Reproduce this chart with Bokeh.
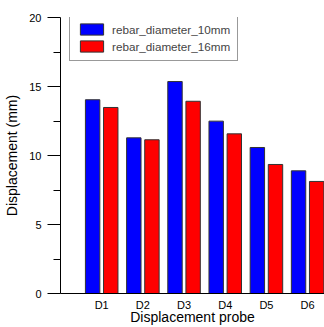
from bokeh.plotting import figure
from bokeh.models import ColumnDataSource, Range1d, FixedTicker, Legend, LegendItem
from bokeh.embed import file_html
from bokeh.resources import INLINE

probes = ["D1", "D2", "D3", "D4", "D5", "D6"]
series_names = ["rebar_diameter_10mm", "rebar_diameter_16mm"]
d10 = [14.04, 11.28, 15.36, 12.49, 10.58, 8.89]
d16 = [13.48, 11.14, 13.93, 11.57, 9.35, 8.12]
colors = ["#0000ff", "#ff0000"]

FONT = "Liberation Sans"
pos = list(range(1, len(probes) + 1))
off = 0.22
bw = 0.35

p = figure(width=324, height=327, output_backend="svg", toolbar_location=None,
           x_range=Range1d(0, 6.41), y_range=Range1d(0, 20),
           min_border_left=60, min_border_right=0, min_border_top=17, min_border_bottom=34)
p.outline_line_color = None
p.xgrid.visible = False
p.ygrid.visible = False

src1 = ColumnDataSource(dict(x=[v - off for v in pos], top=d10))
src2 = ColumnDataSource(dict(x=[v + off for v in pos], top=d16))
r1 = p.vbar(x="x", top="top", width=bw, source=src1, fill_color=colors[0], line_color="#333333", line_width=1)
r2 = p.vbar(x="x", top="top", width=bw, source=src2, fill_color=colors[1], line_color="#333333", line_width=1)

# axes
p.xaxis.ticker = FixedTicker(ticks=pos)
p.xaxis.major_label_overrides = {v: lab for v, lab in zip(pos, probes)}
p.xaxis.major_tick_out = 0
p.xaxis.major_tick_in = 0
p.xaxis.minor_tick_out = 0
p.xaxis.minor_tick_in = 0
p.xaxis.major_tick_line_color = None
p.xaxis.minor_tick_line_color = None
p.xaxis.axis_label = "Displacement probe"
p.yaxis.axis_label = "Displacement (mm)"
p.yaxis.ticker = FixedTicker(ticks=[0, 5, 10, 15, 20], minor_ticks=[2.5, 7.5, 12.5, 17.5])
p.yaxis.major_tick_out = 13
p.yaxis.major_tick_in = 0
p.yaxis.minor_tick_out = 7
p.yaxis.minor_tick_in = 0
for ax in (p.xaxis, p.yaxis):
    ax.axis_line_color = "black"
    ax.axis_line_width = 1
    ax.major_label_text_font = FONT
    ax.major_label_text_font_size = "11px"
    ax.major_label_text_color = "black"
    ax.axis_label_text_font = FONT
    ax.axis_label_text_font_size = "14px"
    ax.axis_label_text_font_style = "normal"
    ax.axis_label_text_color = "black"
p.yaxis.major_tick_line_color = "black"
p.yaxis.minor_tick_line_color = "black"
p.yaxis.major_label_standoff = 6
p.yaxis.axis_label_standoff = 6
p.xaxis.major_label_standoff = 5
p.xaxis.axis_label_standoff = -5

legend = Legend(items=[LegendItem(label=series_names[0], renderers=[r1]),
                       LegendItem(label=series_names[1], renderers=[r2])],
                location=(9, 232))
legend.glyph_width = 29
legend.glyph_height = 14
legend.label_height = 14
legend.spacing = 3
legend.padding = 7
legend.margin = 0
legend.label_standoff = 6
legend.label_text_font = FONT
legend.label_text_font_size = "11.7px"
legend.border_line_color = "#333333"
legend.border_line_width = 1
legend.background_fill_alpha = 1
p.add_layout(legend)

open("out.html", "w").write(file_html(p, INLINE))
